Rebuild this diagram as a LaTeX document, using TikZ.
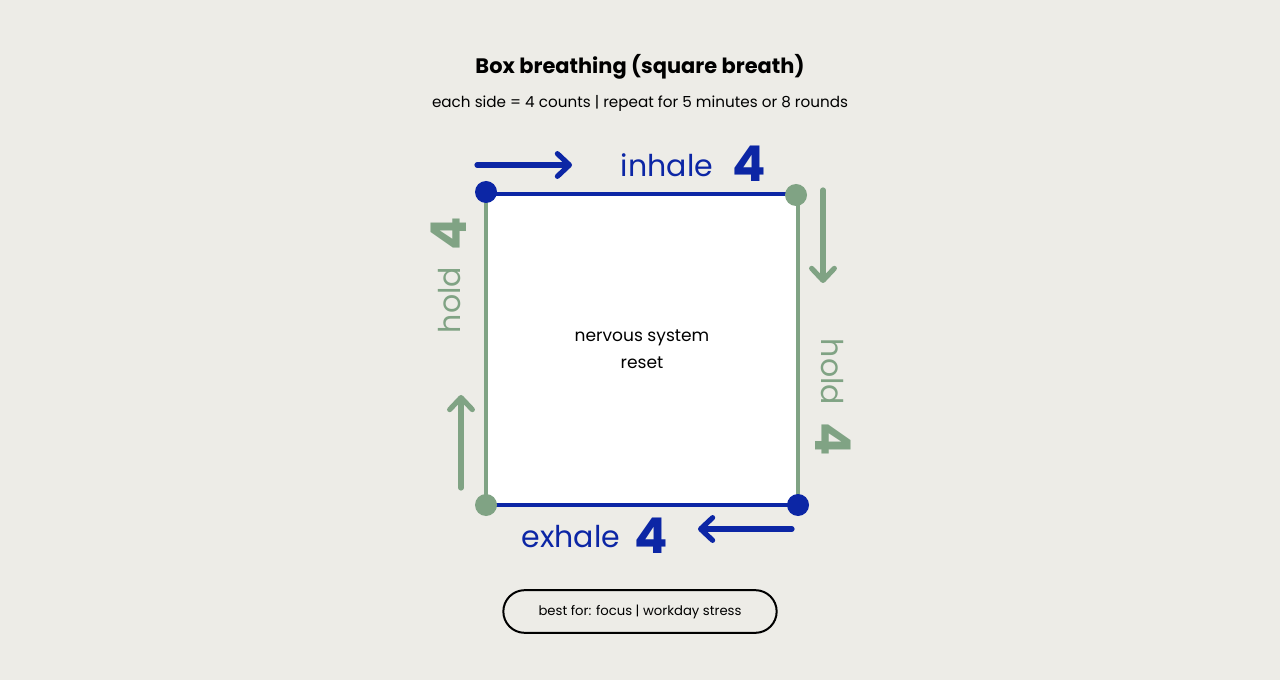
\documentclass[tikz,border=0pt]{standalone}
\usepackage{fontspec}
\setmainfont{Poppins}
\usetikzlibrary{arrows.meta}
\definecolor{bg}{RGB}{237,236,231}
\definecolor{bblue}{RGB}{12,38,165}
\definecolor{bgreen}{RGB}{128,163,132}
\tikzset{
  px/.style={x=0.75pt,y=-0.75pt},
  edgeline/.style={line width=3.4pt},
  dot/.style={circle,inner sep=0pt,minimum size=16.5pt},
  flow/.style={line width=3.9pt,line cap=round,-{Straight Barb[length=9pt,width=17pt,line cap=round,line join=round]}},
  lbl/.style={inner sep=0pt,font=\fontsize{22.5}{28}\selectfont},
  num/.style={inner sep=0pt,font=\fontsize{37}{40}\selectfont\bfseries},
}
\begin{document}
\begin{tikzpicture}[px]
\useasboundingbox (0,0) rectangle (1280,680);
\fill[bg] (0,0) rectangle (1280,680);
% title
\node[font=\fontsize{15.7}{20}\selectfont\bfseries] (title) at (640,67) {Box breathing (square breath)};
\node[font=\fontsize{11.4}{14}\selectfont] (sub) at (640,103) {each side = 4 counts | repeat for 5 minutes or 8 rounds};
% corners
\coordinate (tl) at (486,194);
\coordinate (tr) at (798,194);
\coordinate (br) at (798,505);
\coordinate (bl) at (486,505);
\fill[white] (tl) -- (tr) -- (br) -- (bl) -- cycle;
\draw[edgeline,bgreen] (tl) -- (bl);
\draw[edgeline,bgreen] (tr) -- (br);
\draw[edgeline,bblue] (tl) -- (tr);
\draw[edgeline,bblue] (bl) -- (br);
\node[dot,fill=bblue] (dtl) at (486,192) {};
\node[dot,fill=bgreen] (dtr) at (796,195) {};
\node[dot,fill=bblue] (dbr) at (798,505) {};
\node[dot,fill=bgreen] (dbl) at (486,505) {};
% center text
\node[align=center,font=\fontsize{12.8}{20}\selectfont] (center) at (642,349) {nervous system\\reset};
% arrows
\coordinate (a1s) at (477,165); \coordinate (a1e) at (572,165);
\draw[flow,bblue] (a1s) -- (a1e);
\coordinate (a2s) at (823,190); \coordinate (a2e) at (823,283);
\draw[flow,bgreen] (a2s) -- (a2e);
\coordinate (a3s) at (792,529); \coordinate (a3e) at (698,529);
\draw[flow,bblue] (a3s) -- (a3e);
\coordinate (a4s) at (461,488); \coordinate (a4e) at (461,395);
\draw[flow,bgreen] (a4s) -- (a4e);
% labels
\node[lbl,bblue] (inh) at (667,165) {inhale};
\node[num,bblue] (inh4) at (749,164) {4};
\node[lbl,bblue] (exh) at (571,537) {exhale};
\node[num,bblue] (exh4) at (651,536) {4};
\node[lbl,bgreen,rotate=90] (lh) at (450,300) {hold};
\node[num,bgreen,rotate=90] (lh4) at (449,234) {4};
\node[lbl,bgreen,rotate=-90] (rh) at (832,372) {hold};
\node[num,bgreen,rotate=-90] (rh4) at (833,439) {4};
% pill
\node[draw=black,line width=1.5pt,rounded corners=16pt,minimum width=205pt,minimum height=32pt,fill=bg,font=\fontsize{9.9}{12}\selectfont] (pill) at (640,611.5) {best for: focus | workday stress};
\end{tikzpicture}
\end{document}
